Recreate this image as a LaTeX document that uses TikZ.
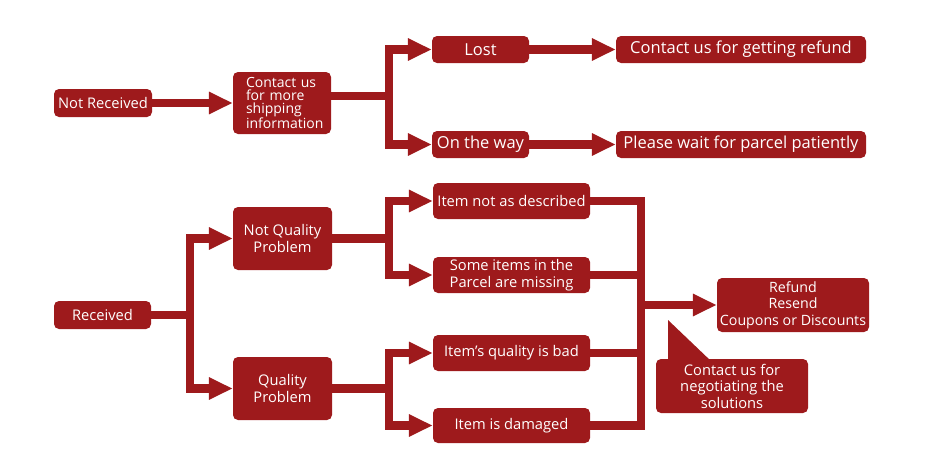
\documentclass[tikz,border=0pt]{standalone}
\usepackage{fontspec}
\setmainfont{Open Sans}
\usetikzlibrary{arrows.meta}
\hfuzz=30pt
\hbadness=10000
\definecolor{dred}{RGB}{158,26,28}
\tikzset{
  box/.style={fill=dred, rounded corners=5pt, text=white, inner sep=0pt, align=center,
    font=\fontsize{14.7}{17}\selectfont},
  bigtext/.style={font=\fontsize{16.5}{19}\selectfont},
  ln/.style={draw=dred, line width=8.5pt, line join=miter},
  arr/.style={ln, -{Triangle[length=24pt,width=21pt]}},
}
\begin{document}
\begin{tikzpicture}[x=1pt,y=-1pt]
\useasboundingbox (0,0) rectangle (932,471);
% top branch
\node[box, minimum width=98pt, minimum height=28pt] (nr) at (103,103) {Not Received};
\node[box, minimum width=98pt, minimum height=62pt, align=left, text width=72pt,
  font=\fontsize{14}{12.8}\selectfont] (cm) at (282,103) {Contact us\\for more\\shipping\\information};
\node[box, bigtext, minimum width=97pt, minimum height=27pt] (lost) at (480.5,49.5) {Lost};
\node[box, bigtext, minimum width=97pt, minimum height=27pt] (otw) at (480.5,144.5) {On the way};
\node[box, bigtext, minimum width=250pt, minimum height=27pt] (refund) at (741,49.5) {Contact us for getting refund};
\node[box, bigtext, minimum width=250pt, minimum height=27pt] (wait) at (741,144.5) {Please wait for parcel patiently};
% bottom branch
\node[box, minimum width=97pt, minimum height=28pt] (rec) at (102.5,315) {Received};
\node[box, minimum width=99pt, minimum height=63pt] (nqp) at (282.5,238.5) {Not Quality\\Problem};
\node[box, minimum width=99pt, minimum height=63pt] (qp) at (282.5,388.5) {Quality\\Problem};
\node[box, minimum width=157pt, minimum height=36pt] (i1) at (511.5,201) {Item not as described};
\node[box, minimum width=157pt, minimum height=36pt] (i2) at (511.5,275) {Some items in the\\Parcel are missing};
\node[box, minimum width=157pt, minimum height=36pt] (i3) at (511.5,353) {Item's quality is bad};
\node[box, minimum width=157pt, minimum height=35pt] (i4) at (511.5,425.5) {Item is damaged};
\node[box, minimum width=152pt, minimum height=54pt, font=\fontsize{14.2}{16.5}\selectfont] (res) at (793,305) {Refund\\Resend\\Coupons or Discounts};
\fill[dred] (668,320) -- (712,362) -- (668,362) -- cycle;
\node[box, minimum width=152pt, minimum height=54pt, font=\fontsize{14.7}{16.5}\selectfont] (neg) at (732,386) {Contact us for\\negotiating the\\solutions};
% coordinates
\coordinate (f1) at (389,96);
\coordinate (f2) at (190,315);
\coordinate (f3) at (389,238.5);
\coordinate (f4) at (389,388.5);
\coordinate (mb) at (641,425.5);
% connectors
\draw[arr] (nr) -- (cm.west |- nr);
\draw[ln] (cm.east |- f1) -- (f1);
\draw[arr] (f1) |- (lost.west);
\draw[arr] (f1) |- (otw.west);
\draw[arr] (lost) -- (refund);
\draw[arr] (otw) -- (wait);
\draw[ln] (rec) -- (f2);
\draw[arr] (f2) |- (nqp.west);
\draw[arr] (f2) |- (qp.west);
\draw[ln] (nqp) -- (f3);
\draw[arr] (f3) |- (i1.west);
\draw[arr] (f3) |- (i2.west);
\draw[ln] (qp) -- (f4);
\draw[arr] (f4) |- (i3.west);
\draw[arr] (f4) |- (i4.west);
\draw[ln] (i1.east) -| (mb) -- (i4.east);
\draw[ln] (i2.east) -- (i2.east -| mb);
\draw[ln] (i3.east) -- (i3.east -| mb);
\draw[arr] (mb |- res) -- (res.west);
\end{tikzpicture}
\end{document}
